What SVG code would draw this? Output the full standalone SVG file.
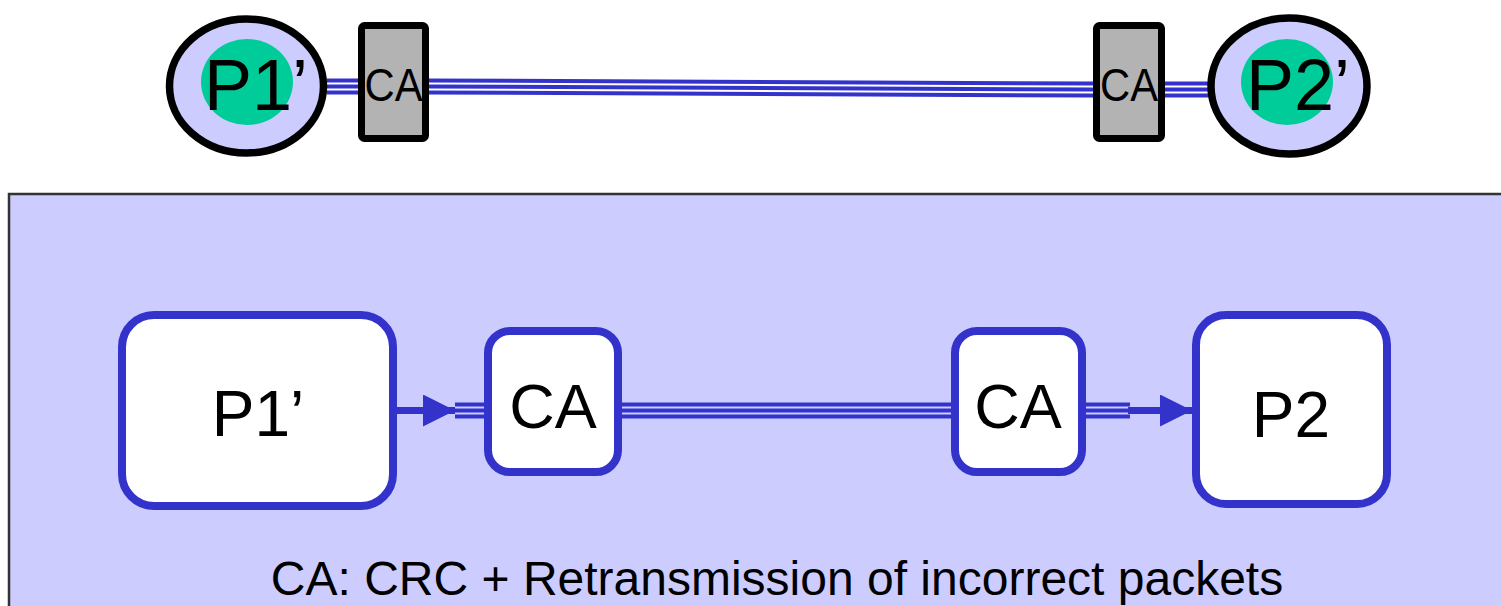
<svg xmlns="http://www.w3.org/2000/svg" width="1501" height="606" viewBox="0 0 1501 606">
  <style>
    text { font-family: "Liberation Sans", Arial, sans-serif; fill: #000; }
    .pe { fill: #ccccff; stroke: #000; stroke-width: 7.5; }
    .core { fill: #00cc99; }
    .ca-top { fill: #b3b3b3; stroke: #000; stroke-width: 7; }
    .box { fill: #fff; stroke: #3333cc; stroke-width: 8; }
    .wire { stroke: #3333cc; stroke-width: 4; fill: none; }
    .link { stroke: #3333cc; stroke-width: 7; fill: none; }
  </style>
  <defs>
    <marker id="head" viewBox="0 0 32 32" refX="32" refY="16" markerWidth="32" markerHeight="32" markerUnits="userSpaceOnUse" orient="auto">
      <path d="M0,0 L32,16 L0,32 Z" fill="#3333cc"/>
    </marker>
  </defs>

  <!-- lower panel background -->
  <rect id="panel" x="9" y="194" width="1500" height="420" fill="#ccccff" stroke="#333" stroke-width="2.5"/>

  <!-- connectors -->
  <g id="connectors">
    <!-- top row: triple-wire buses -->
    <g class="wire">
      <path d="M327,80.5 L360,80.5 M327,86.5 L360,86.5 M327,92.5 L360,92.5"/>
      <path d="M428,80.5 L1094,83.5 M428,86.5 L1094,89.5 M428,92.5 L1094,95.5"/>
      <path d="M1164,83.5 L1210,83.5 M1164,89.5 L1210,89.5 M1164,95.5 L1210,95.5"/>
    </g>
    <!-- bottom row -->
    <path class="link" d="M395,410.5 L455,410.5" marker-end="url(#head)"/>
    <g class="wire">
      <path d="M455,404.5 L485,404.5 M455,410.5 L485,410.5 M455,416.5 L485,416.5"/>
      <path d="M620,404.5 L953,404.5 M620,410.5 L953,410.5 M620,416.5 L953,416.5"/>
      <path d="M1083,404.5 L1130,404.5 M1083,410.5 L1130,410.5 M1083,416.5 L1130,416.5"/>
    </g>
    <path class="link" d="M1128,410.5 L1192,410.5" marker-end="url(#head)"/>
  </g>

  <!-- top row nodes -->
  <g id="top-p1">
    <ellipse class="pe" cx="246.5" cy="86" rx="77" ry="67"/>
    <ellipse class="core" cx="247" cy="82" rx="46" ry="43"/>
    <text x="204" y="110" font-size="72">P1’</text>
  </g>
  <g id="top-ca1">
    <rect class="ca-top" x="361.5" y="25.5" width="64" height="113" rx="3"/>
    <text x="393.5" y="101" font-size="46" text-anchor="middle" textLength="58" lengthAdjust="spacingAndGlyphs">CA</text>
  </g>
  <g id="top-ca2">
    <rect class="ca-top" x="1096.5" y="25.5" width="65" height="113" rx="3"/>
    <text x="1129" y="101" font-size="46" text-anchor="middle" textLength="58" lengthAdjust="spacingAndGlyphs">CA</text>
  </g>
  <g id="top-p2">
    <ellipse class="pe" cx="1289" cy="86" rx="78" ry="68"/>
    <ellipse class="core" cx="1287" cy="82" rx="46" ry="43"/>
    <text x="1246" y="110" font-size="72">P2’</text>
  </g>

  <!-- bottom row nodes -->
  <g id="p1">
    <rect class="box" x="122" y="315" width="271" height="191" rx="32"/>
    <text x="258" y="436" font-size="64" text-anchor="middle">P1’</text>
  </g>
  <g id="ca1">
    <rect class="box" x="488" y="331" width="130" height="141" rx="22"/>
    <text x="553" y="428" font-size="63" text-anchor="middle">CA</text>
  </g>
  <g id="ca2">
    <rect class="box" x="955" y="331" width="127" height="141" rx="22"/>
    <text x="1018" y="428" font-size="63" text-anchor="middle">CA</text>
  </g>
  <g id="p2">
    <rect class="box" x="1196" y="315" width="191" height="189" rx="30"/>
    <text x="1291" y="437" font-size="64" text-anchor="middle">P2</text>
  </g>

  <text id="caption" x="777" y="595" font-size="48" text-anchor="middle">CA: CRC + Retransmission of incorrect packets</text>
</svg>
